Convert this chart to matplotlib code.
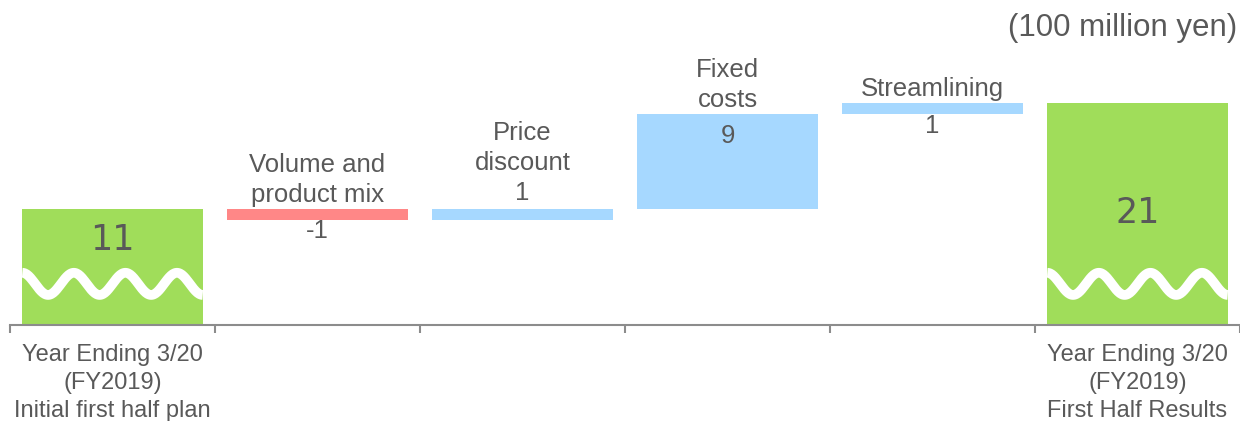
import numpy as np
import matplotlib.pyplot as plt

# data (100 million yen)
steps = ["Initial", "Volume and\nproduct mix", "Price\ndiscount", "Fixed\ncosts", "Streamlining", "Results"]
deltas = [11, -1, 1, 9, 1, 21]
is_total = [True, False, False, False, False, True]
value_labels = ["11", "-1", "1", "9", "1", "21"]
value_pos = ["in", "below", "above", "in", "below", "in"]
x_labels = ["Year Ending 3/20\n(FY2019)\nInitial first half plan", "", "", "", "",
            "Year Ending 3/20\n(FY2019)\nFirst Half Results"]

# where the big numbers sit inside the total bars (fraction of bar height)
total_label_frac = [0.73, None, None, None, None, 0.505]

GREEN = "#a0dd5a"
RED = "#ff8787"
BLUE = "#a6d8ff"
TEXT = "#595959"
AXIS = "#8c8c8c"

plt.rcParams['font.family'] = ['Liberation Sans', 'DejaVu Sans']

fig = plt.figure(figsize=(12.4, 4.21), dpi=100)
ax = fig.add_axes([10 / 1240, 96 / 421, 1230 / 1240, 325 / 421])

x = np.arange(len(deltas))
width = 0.88

# waterfall bottoms / tops
bottoms, tops = [], []
level = 0
for d, tot in zip(deltas, is_total):
    if tot:
        b, t = 0, d
        level = d
    else:
        b, t = min(level, level + d), max(level, level + d)
        level = level + d
    bottoms.append(b)
    tops.append(t)

colors = []
for d, tot in zip(deltas, is_total):
    colors.append(GREEN if tot else (RED if d < 0 else BLUE))

heights = [t - b for b, t in zip(bottoms, tops)]
ax.bar(x, heights, bottom=bottoms, width=width, color=colors, edgecolor="none", zorder=2)

# wavy "break" marks on the total bars
for i, tot in enumerate(is_total):
    if not tot:
        continue
    xs = np.linspace(x[i] - width / 2, x[i] + width / 2, 200)
    period = width / 3.5
    ys = 3.9 + 1.05 * np.cos(2 * np.pi * (xs - xs[0]) / period)
    ax.plot(xs, ys, color="white", lw=7, solid_capstyle="butt", zorder=3)
    ax.text(x[i], tops[i] * total_label_frac[i], value_labels[i], ha="center", va="center",
            fontsize=25, color=TEXT, family="DejaVu Sans", zorder=4)

# labels for step bars
for i, tot in enumerate(is_total):
    if tot:
        continue
    top = tops[i]
    if value_pos[i] == "above":
        ax.annotate(steps[i] + "\n" + value_labels[i], (x[i], top), xytext=(0, 3),
                    textcoords="offset points", ha="center", va="bottom",
                    fontsize=18.5, color=TEXT, linespacing=1.3)
    else:
        ax.annotate(steps[i], (x[i], top), xytext=(0, 1.5),
                    textcoords="offset points", ha="center", va="bottom",
                    fontsize=18.5, color=TEXT, linespacing=1.3)
        ax.annotate(value_labels[i], (x[i], top), xytext=(0, -16),
                    textcoords="offset points", ha="center", va="center",
                    fontsize=18.5, color=TEXT)

ax.set_xlim(-0.5, len(deltas) - 0.5)
ax.set_ylim(0, 325 / 10.55)

for s in ["top", "left", "right"]:
    ax.spines[s].set_visible(False)
ax.spines["bottom"].set_color(AXIS)
ax.spines["bottom"].set_linewidth(1.5)
ax.set_yticks([])

ax.set_xticks(x)
ax.set_xticklabels(x_labels, fontsize=17, color=TEXT, linespacing=1.33)
ax.tick_params(axis="x", which="major", length=0, pad=14)
ax.set_xticks(np.arange(len(deltas) + 1) - 0.5, minor=True)
ax.tick_params(axis="x", which="minor", length=6, width=1.5, color=AXIS, direction="out")

fig.text(1237 / 1240, 1 - 28 / 421, "(100 million yen)", ha="right", va="center",
         fontsize=22.5, color=TEXT)

fig.savefig("out.png", dpi=100)
